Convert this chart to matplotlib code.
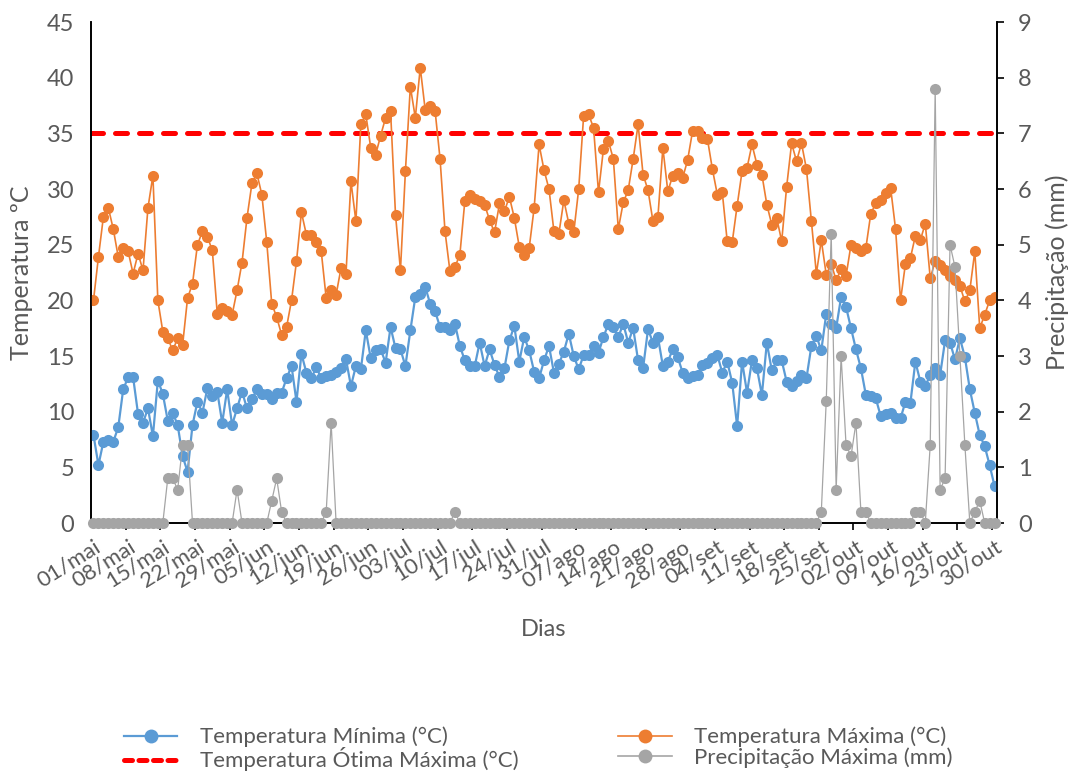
import matplotlib
matplotlib.use("Agg")
import matplotlib.pyplot as plt
from matplotlib.lines import Line2D
import numpy as np

plt.rcParams['font.family'] = ['Lato', 'DejaVu Sans']

# one row per week, starting on the labelled day
temp_min = [
    7.9, 5.2, 7.3, 7.5, 7.3, 8.6, 12.0,
    13.1, 13.1, 9.8, 9.0, 10.3, 7.8, 12.8,
    11.6, 9.2, 9.9, 8.8, 6.0, 4.6, 8.8,
    10.9, 9.9, 12.1, 11.4, 11.8, 9.0, 12.0,
    8.8, 10.3, 11.8, 10.3, 11.1, 12.0, 11.6,
    11.6, 11.1, 11.7, 11.7, 13.0, 14.1, 10.9,
    15.2, 13.5, 13.0, 14.0, 13.0, 13.2, 13.3,
    13.6, 13.9, 14.7, 12.3, 14.1, 13.8, 17.3,
    14.8, 15.5, 15.6, 14.4, 17.6, 15.7, 15.6,
    14.1, 17.3, 20.3, 20.6, 21.2, 19.7, 19.0,
    17.6, 17.6, 17.3, 17.9, 15.9, 14.6, 14.1,
    14.1, 16.2, 14.1, 15.6, 14.2, 13.1, 13.9,
    16.4, 17.7, 14.5, 16.7, 15.5, 13.6, 13.0,
    14.6, 15.9, 13.5, 14.3, 15.4, 17.0, 15.0,
    13.8, 15.1, 15.1, 15.9, 15.3, 16.7, 17.9,
    17.6, 16.7, 17.9, 16.2, 17.5, 14.6, 13.9,
    17.4, 16.2, 16.7, 14.1, 14.5, 15.6, 14.9,
    13.5, 13.0, 13.2, 13.3, 14.2, 14.4, 14.8,
    15.1, 13.5, 14.5, 12.6, 8.7, 14.5, 11.7,
    14.6, 13.9, 11.5, 16.2, 13.7, 14.6, 14.6,
    12.7, 12.3, 12.8, 13.3, 13.0, 15.9, 16.8,
    15.5, 18.8, 17.9, 17.5, 20.3, 19.4, 17.5,
    15.6, 13.9, 11.5, 11.4, 11.2, 9.6, 9.8,
    9.9, 9.4, 9.4, 10.9, 10.8, 14.5, 12.7,
    12.3, 13.3, 13.9, 13.3, 16.4, 16.2, 14.7,
    16.6, 14.9, 12.0, 9.9, 7.9, 6.9, 5.2,
    3.3,
]

temp_max = [
    20.0, 23.9, 27.5, 28.3, 26.4, 23.9, 24.7,
    24.4, 22.4, 24.2, 22.7, 28.3, 31.2, 20.0,
    17.2, 16.6, 15.5, 16.6, 16.0, 20.2, 21.5,
    25.0, 26.2, 25.7, 24.5, 18.8, 19.3, 19.0,
    18.7, 20.9, 23.4, 27.4, 30.5, 31.4, 29.5,
    25.2, 19.7, 18.5, 16.9, 17.6, 20.0, 23.5,
    27.9, 25.9, 25.9, 25.2, 24.4, 20.2, 20.9,
    20.5, 22.9, 22.4, 30.7, 27.1, 35.8, 36.7,
    33.7, 33.1, 34.8, 36.4, 37.0, 27.7, 22.7,
    31.6, 39.2, 36.4, 40.9, 37.1, 37.5, 37.0,
    32.7, 26.2, 22.6, 23.0, 24.1, 28.9, 29.5,
    29.1, 28.9, 28.6, 27.2, 26.1, 28.7, 28.0,
    29.3, 27.4, 24.8, 24.1, 24.7, 28.3, 34.0,
    31.7, 30.0, 26.2, 26.0, 29.0, 26.9, 26.1,
    30.0, 36.6, 36.7, 35.5, 29.7, 33.6, 34.3,
    32.7, 26.4, 28.8, 29.9, 32.7, 35.8, 31.3,
    29.9, 27.1, 27.5, 33.7, 29.8, 31.2, 31.4,
    31.0, 32.6, 35.2, 35.2, 34.6, 34.5, 31.8,
    29.5, 29.7, 25.3, 25.2, 28.5, 31.6, 31.9,
    34.0, 32.2, 31.3, 28.6, 26.8, 27.4, 25.3,
    30.2, 34.1, 32.5, 34.1, 31.8, 27.1, 22.4,
    25.4, 22.3, 23.3, 21.8, 22.8, 22.2, 25.0,
    24.7, 24.4, 24.7, 27.8, 28.7, 29.0, 29.6,
    30.1, 26.4, 20.0, 23.3, 23.8, 25.8, 25.4,
    26.9, 22.0, 23.5, 23.2, 22.7, 22.2, 21.8,
    21.3, 19.9, 20.9, 24.4, 17.5, 18.7, 20.0,
    20.3,
]

precip = [
    0, 0, 0, 0, 0, 0, 0,
    0, 0, 0, 0, 0, 0, 0,
    0, 0.8, 0.8, 0.6, 1.4, 1.4, 0,
    0, 0, 0, 0, 0, 0, 0,
    0, 0.6, 0, 0, 0, 0, 0,
    0, 0.4, 0.8, 0.2, 0, 0, 0,
    0, 0, 0, 0, 0, 0.2, 1.8,
    0, 0, 0, 0, 0, 0, 0,
    0, 0, 0, 0, 0, 0, 0,
    0, 0, 0, 0, 0, 0, 0,
    0, 0, 0, 0.2, 0, 0, 0,
    0, 0, 0, 0, 0, 0, 0,
    0, 0, 0, 0, 0, 0, 0,
    0, 0, 0, 0, 0, 0, 0,
    0, 0, 0, 0, 0, 0, 0,
    0, 0, 0, 0, 0, 0, 0,
    0, 0, 0, 0, 0, 0, 0,
    0, 0, 0, 0, 0, 0, 0,
    0, 0, 0, 0, 0, 0, 0,
    0, 0, 0, 0, 0, 0, 0,
    0, 0, 0, 0, 0, 0, 0,
    0.2, 2.2, 5.2, 0.6, 3.0, 1.4, 1.2,
    1.8, 0.2, 0.2, 0, 0, 0, 0,
    0, 0, 0, 0, 0, 0.2, 0.2,
    0, 1.4, 7.8, 0.6, 0.8, 5.0, 4.6,
    3.0, 1.4, 0, 0.2, 0.4, 0, 0,
    0,
]

temp_otima = 35

tick_labels = ['01/mai', '08/mai', '15/mai', '22/mai', '29/mai', '05/jun',
               '12/jun', '19/jun', '26/jun', '03/jul', '10/jul', '17/jul',
               '24/jul', '31/jul', '07/ago', '14/ago', '21/ago', '28/ago',
               '04/set', '11/set', '18/set', '25/set', '02/out', '09/out',
               '16/out', '23/out', '30/out']

c_min = '#5B9BD5'
c_max = '#ED7D31'
c_prec = '#A5A5A5'
c_red = '#FF0000'
c_txt = '#595959'

n = len(temp_min)
x = np.arange(n) + 0.5

fig = plt.figure(figsize=(10.72, 7.73), dpi=100)
ax = fig.add_axes([0.0849, 0.3234, 0.8452, 0.6481])

ax.axhline(temp_otima, color=c_red, lw=3.6, linestyle=(0, (2.4, 2.4)),
           dash_capstyle='round', zorder=1)
ax.plot(x, temp_min, color=c_min, lw=1.6, marker='o', ms=8, mew=0, zorder=3)
ax.plot(x, temp_max, color=c_max, lw=1.2, marker='o', ms=8, mew=0, zorder=3)

ax2 = ax.twinx()
ax2.plot(x, precip, color=c_prec, lw=0.9, marker='o', ms=8, mew=0,
         clip_on=False, zorder=3)

ax.set_xlim(0, n)
ax.set_ylim(0, 45)
ax2.set_ylim(0, 9)
ax.set_yticks(np.arange(0, 46, 5))
ax2.set_yticks(np.arange(0, 10, 1))

ax.set_xticks(x[::7])
ax.set_xticklabels(tick_labels, rotation=32, ha='right', va='top',
                   rotation_mode='anchor')
ax.set_xticks(np.arange(7, n, 7), minor=True)
ax.tick_params(axis='x', which='major', length=0, pad=10, labelsize=16, labelcolor=c_txt)
ax.tick_params(axis='x', which='minor', length=5, width=1.2, direction='out')
ax.tick_params(axis='y', length=0, pad=12, labelsize=17, labelcolor=c_txt)
ax2.tick_params(axis='y', length=5, width=1.2, direction='out', pad=10,
                labelsize=17, labelcolor=c_txt)

for a in (ax, ax2):
    a.spines['top'].set_visible(False)
    for s in ('left', 'right', 'bottom'):
        a.spines[s].set_linewidth(1.2)
        a.spines[s].set_color('black')

ax.set_ylabel('Temperatura ºC', fontsize=18, color=c_txt, labelpad=10)
ax2.set_ylabel('Precipitação (mm)', fontsize=18, color=c_txt, labelpad=10)
ax.set_xlabel('Dias', fontsize=17, color=c_txt, labelpad=20)

handles = [
    Line2D([], [], color=c_min, lw=1.6, marker='o', ms=10, mew=0),
    Line2D([], [], color=c_red, lw=3.6, linestyle=(0, (1.6, 1.3)), dash_capstyle='round'),
    Line2D([], [], color=c_max, lw=1.2, marker='o', ms=10, mew=0),
    Line2D([], [], color=c_prec, lw=1.2, marker='o', ms=10, mew=0),
]
labels = ['Temperatura Mínima (°C)', 'Temperatura Ótima Máxima (°C)',
          'Temperatura Máxima (°C)', 'Precipitação Máxima (mm)']
leg = fig.legend(handles, labels, ncol=2, loc='center',
                 bbox_to_anchor=(0.502, 0.031), frameon=False, fontsize=16,
                 handlelength=2.4, labelspacing=0.0, columnspacing=4.5,
                 handletextpad=1.0)
for t in leg.get_texts():
    t.set_color(c_txt)

fig.savefig('out.png', dpi=100)
